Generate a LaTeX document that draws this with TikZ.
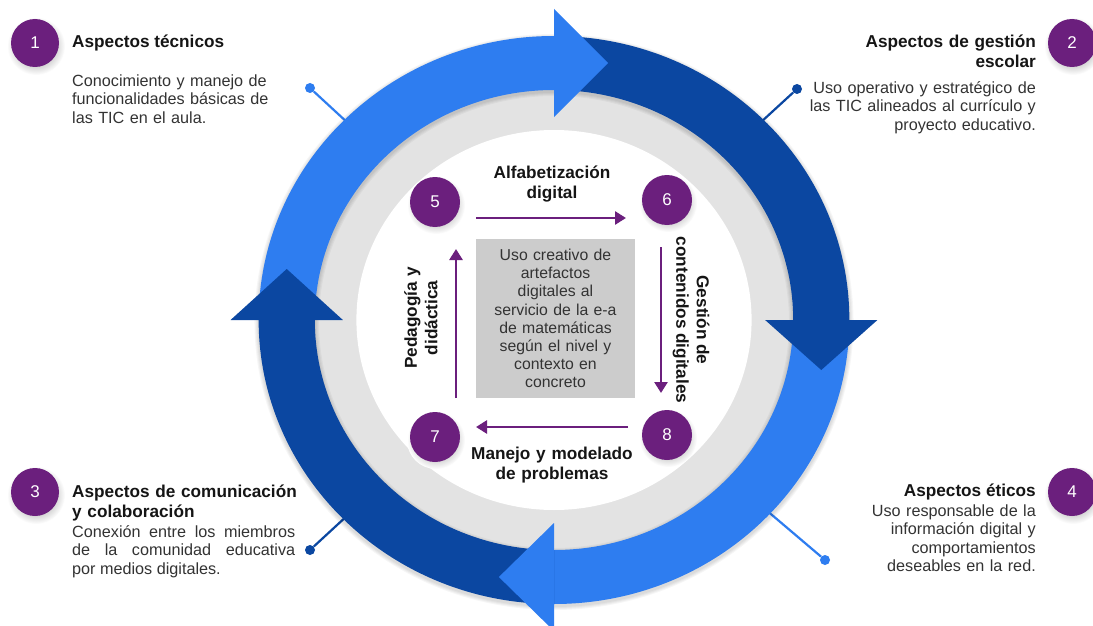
\documentclass[tikz,border=0pt]{standalone}
\usepackage{fontspec}
\setmainfont{Liberation Sans}
\usetikzlibrary{arrows.meta}

\definecolor{lblue}{HTML}{2E7DF0}
\definecolor{dblue}{HTML}{0B47A1}
\definecolor{ringgray}{HTML}{E3E3E3}
\definecolor{purp}{HTML}{6B1F7D}
\definecolor{boxgray}{HTML}{CCCCCC}
\definecolor{bodytxt}{HTML}{333333}
\definecolor{headtxt}{HTML}{151515}

\begin{document}
\begin{tikzpicture}[x=1pt,y=-1pt,
  badge/.style={circle, fill=purp, minimum size=48pt, inner sep=0pt, text=white,
    font=\fontsize{17}{17}\selectfont},
  cbadge/.style={badge, minimum size=50pt},
  softshadow/.style={circle, inner sep=0pt, minimum size=58pt, inner color=black!55, outer color=white},
  head/.style={inner sep=0pt, text=headtxt, font=\fontsize{17.2}{20.5}\selectfont\bfseries},
  body/.style={inner sep=0pt, text=bodytxt, font=\fontsize{16.2}{18.6}\selectfont},
  dot/.style={circle, inner sep=0pt, minimum size=10pt},
  link/.style={line width=2.2pt},
  parrow/.style={draw=purp, line width=2.6pt, -{Triangle[length=11pt,width=13pt]}},
]
\useasboundingbox[fill=white] (0,0) rectangle (1093,626);

% ---- connectors from the outer dots towards the ring ----
\node[dot, fill=lblue] (d1) at (310,88) {};
\node[dot, fill=dblue] (d2) at (797,89) {};
\node[dot, fill=dblue] (d3) at (310,550) {};
\node[dot, fill=lblue] (d4) at (825,560) {};
\coordinate (r1) at (362,136);
\coordinate (r2) at (748,134);
\coordinate (r3) at (362,502);
\coordinate (r4) at (752,498);
\draw[link, lblue] (d1) -- (r1);
\draw[link, dblue] (d2) -- (r2);
\draw[link, dblue] (d3) -- (r3);
\draw[link, lblue] (d4) -- (r4);

% ---- cycle ring ----
\begin{scope}[shift={(554pt,-320pt)}, x=1.04pt, y=1pt]
  \fill[ringgray] (0,0) circle[radius=232];
  \fill[white] (0,0) circle[radius=190];
  % soft shadow under the band
  \foreach \k in {1,...,4}
    \fill[black, opacity=0.035, even odd rule, yshift=-2pt]
      (0,0) circle[radius=284+\k] (0,0) circle[radius=230-\k];
  % band segments
  \fill[lblue] (180:284) arc[start angle=180, end angle=90, radius=284]
    -- (90:230) arc[start angle=90, end angle=180, radius=230] -- cycle;
  \fill[dblue] (90:284) arc[start angle=90, end angle=0, radius=284]
    -- (0:230) arc[start angle=0, end angle=90, radius=230] -- cycle;
  \fill[lblue] (0:284) arc[start angle=0, end angle=-90, radius=284]
    -- (-90:230) arc[start angle=-90, end angle=0, radius=230] -- cycle;
  \fill[dblue] (-90:284) arc[start angle=-90, end angle=-180, radius=284]
    -- (-180:230) arc[start angle=-180, end angle=-90, radius=230] -- cycle;
  % arrow heads
  \fill[lblue] (0,311) -- (0,203) -- (52,257) -- cycle;
  \fill[dblue] (311,0) -- (203,0) -- (257,-50) -- cycle;
  \fill[lblue] (0,-311) -- (0,-203) -- (-53,-257) -- cycle;
  \fill[dblue] (-311,0) -- (-203,0) -- (-257,51) -- cycle;
\end{scope}

% ---- numbered badges ----
\foreach \p in {(36,46),(1073,46),(36,495),(1073,495),(436,205),(668,203),(436,440),(668,438)}
  \node[softshadow] at \p {};
\node[badge] (n1) at (35,43) {1};
\node[badge] (n2) at (1072,43) {2};
\node[badge] (n3) at (35,492) {3};
\node[badge] (n4) at (1072,492) {4};

% ---- outer texts ----
\node[head, anchor=base west] (h1) at (72,47.5) {Aspectos técnicos};
\node[body, anchor=base west, text width=240pt, align=left] (t1) at (72,86)
  {Conocimiento y manejo de\\funcionalidades básicas de\\las TIC en el aula.};

\node[head, anchor=base east, text width=220pt, align=right] (h2) at (1036,47.5)
  {Aspectos de gestión\\escolar};
\node[body, anchor=base east, text width=260pt, align=right] (t2) at (1036,93)
  {Uso operativo y estratégico de\\las TIC alineados al currículo y\\proyecto educativo.};

\node[head, anchor=base west, text width=260pt, align=left] (h3) at (72,497)
  {Aspectos de comunicación\\y colaboración};
\node[body, anchor=base west, text width=223pt, align=justify] (t3) at (72,537)
  {Conexión entre los miembros\linebreak de la comunidad educativa\linebreak por medios digitales.};

\node[head, anchor=base east] (h4) at (1036,496) {Aspectos éticos};
\node[body, anchor=base east, text width=220pt, align=right] (t4) at (1036,516)
  {Uso responsable de la\\información digital y\\comportamientos\\deseables en la red.};

% ---- inner cycle ----
\node[cbadge] (c5) at (435,202) {5};
\node[cbadge] (c6) at (667,200) {6};
\node[cbadge] (c7) at (435,437) {7};
\node[cbadge] (c8) at (667,435) {8};

\node[fill=boxgray, minimum width=159pt, minimum height=159pt, inner sep=0pt,
  text width=155pt, align=center, text=bodytxt,
  font=\fontsize{15.8}{18.1}\selectfont] (core) at (555.5,318.5)
  {Uso creativo de\\artefactos\\digitales al\\servicio de la e-a\\de matemáticas\\según el nivel y\\contexto en\\concreto};

\node[head, align=center, text width=180pt, anchor=base] (l56) at (552,178) {Alfabetización\\digital};
\node[head, align=center, rotate=-90] (l68) at (691,320) {Gestión de\\contenidos digitales};
\node[head, align=center, text width=180pt, anchor=base] (l87) at (552,459) {Manejo y modelado\\de problemas};
\node[head, align=center, rotate=90] (l75) at (421,318) {Pedagogía y\\didáctica};

\coordinate (a5) at (476,218);  \coordinate (a6) at (626,218);
\coordinate (b6) at (661,247);  \coordinate (b8) at (661,393);
\coordinate (e8) at (628,427);  \coordinate (e7) at (476,427);
\coordinate (f7) at (456,398);  \coordinate (f5) at (456,249);
\draw[parrow] (a5) -- (a6);
\draw[parrow] (b6) -- (b8);
\draw[parrow] (e8) -- (e7);
\draw[parrow] (f7) -- (f5);
\end{tikzpicture}
\end{document}
